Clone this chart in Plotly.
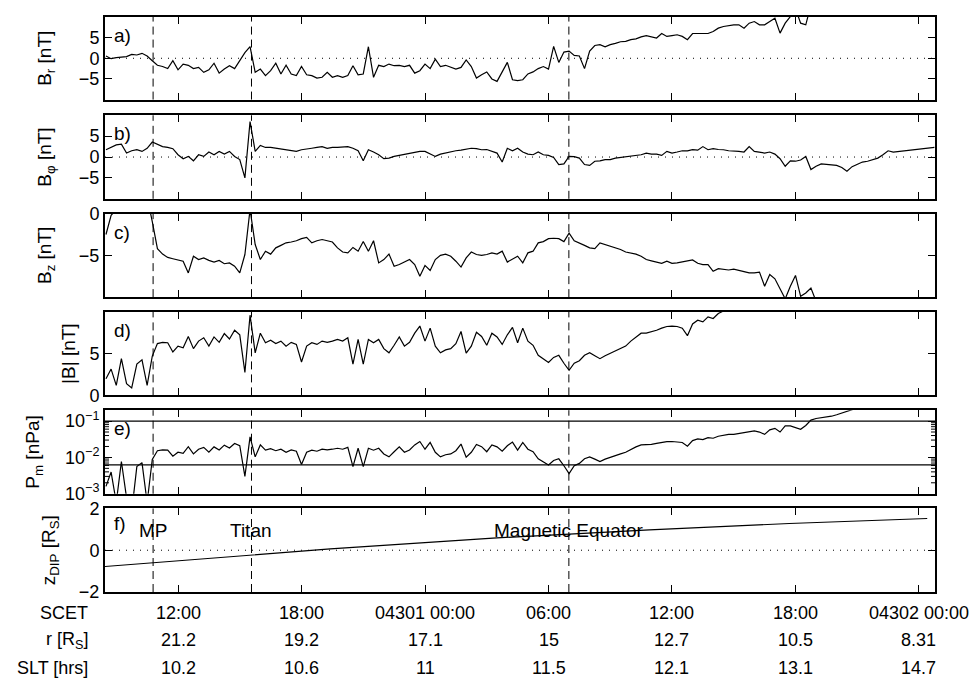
import numpy as np
import plotly.graph_objects as go

# ---------------- data (time in hours after 2004 day 300, 00:00 SCET) ----------------
T0 = 8.5      # first sample time [h]
DT = 0.25     # sample spacing [h]

BR = [0.55, -0.1, 0.15, 0.3, 0.4, 0.95, 0.8, 1.2, 0.55, -0.6,
      -1.7, -2.0, -2.5, -0.6, -2.8, -1.4, -1.7, -2.5, -2.2, -3.4,
      -2.8, -1.2, -3.6, -2.6, -1.8, -2.5, -0.6, 1.35, 2.8, -3.4,
      -2.6, -4.2, -3.0, -1.2, -3.8, -1.7, -3.8, -4.2, -2.0, -4.0,
      -4.2, -4.8, -4.6, -3.4, -4.6, -4.2, -4.6, -4.2, -1.8, -4.0,
      -3.8, 2.8, -4.6, -1.7, -2.0, -1.4, -1.8, -1.7, -2.0, -1.7,
      -3.6, -3.0, -1.4, -2.5, -0.2, -2.0, -1.7, -2.2, -2.6, -2.2,
      -0.4, -2.0, -4.8, -4.0, -3.3, -5.0, -5.6, -3.3, -1.0, -5.2,
      -5.4, -5.2, -3.8, -3.3, -2.5, -2.0, -2.6, 2.9, -1.0, 1.5,
      1.75, 0.7, 0.55, -2.5, 1.75, 3.1, 3.3, 2.8, 3.3, 3.6,
      4.0, 4.1, 4.5, 4.7, 5.2, 5.5, 5.2, 4.9, 6.0, 5.3,
      5.5, 5.7, 5.3, 4.5, 6.0, 6.0, 6.1, 6.0, 6.5, 7.3,
      7.7, 7.9, 8.1, 8.1, 7.3, 8.5, 8.9, 8.1, 8.1, 8.9,
      9.7, 6.1, 8.5, 10.1, 12.0, 8.5, 8.1, 13.0]

BPHI = [1.75, 2.3, 2.9, 3.1, 0.95, 1.5, 1.75, 1.35, 2.1, 3.6,
        3.1, 2.5, 2.3, 2.0, 0.55, -0.4, 0.15, -0.9, 0.55, 0.15,
        1.2, 0.55, 1.35, 0.7, 1.35, 0.15, -0.6, -5.0, 8.5, 1.35,
        2.8, 2.3, 2.3, 2.1, 2.0, 1.75, 1.5, 1.35, 1.75, 2.0,
        2.1, 2.3, 2.5, 2.1, 2.3, 2.3, 2.4, 2.5, 2.1, 1.5,
        -0.9, 1.75, 1.2, 0.55, -0.4, -0.25, 0.15, 0.4, 0.55, 0.9,
        1.2, 1.35, 1.35, 0.7, 0.15, 0.7, 0.95, 1.35, 1.5, 1.65,
        1.8, 2.1, 2.0, 1.75, 1.8, 1.35, 0.95, -1.2, 2.1, 1.5,
        2.1, 1.2, 0.7, 0.55, 1.2, 0.55, 0.4, -0.1, -1.8, -1.65,
        0.15, 0.1, -0.25, -1.8, -2.0, -1.0, -0.9, -0.6, -0.6, -0.25,
        -0.1, 0.1, 0.25, 0.4, 0.55, 0.95, 0.7, 0.7, 0.4, 1.35,
        0.95, 1.2, 1.5, 1.5, 1.75, 1.65, 2.5, 1.75, 2.0, 1.8,
        1.75, 1.5, 1.5, 1.35, 1.2, 2.5, 1.35, 1.2, 0.95, 1.2,
        0.7, -0.4, -2.2, -0.9, -1.0, -0.7, 0.15, -3.0, -2.2, -1.65,
        -1.8, -1.8, -2.0, -2.5, -3.4, -2.3, -1.65, -1.2, -1.0, -0.6,
        -0.25, 0.55, 1.5, 1.2, 1.35, 1.5, 1.65, 1.8, 2.0, 2.1,
        2.3, 2.3]

BZ = [-2.5, -0.2, 0.5, 2.0, 2.0, 2.0, 2.0, 2.0, 2.0, -0.95,
      -4.2, -4.85, -5.25, -5.4, -5.55, -5.7, -7.1, -5.1, -5.5, -5.3,
      -5.6, -5.8, -5.6, -6.0, -5.9, -6.3, -7.1, -4.9, 0.5, -3.7,
      -5.5, -4.5, -4.85, -4.1, -3.8, -3.5, -3.4, -3.25, -3.0, -2.85,
      -3.5, -3.25, -3.1, -3.25, -3.4, -4.1, -4.6, -4.7, -4.05, -4.5,
      -3.35, -4.5, -3.25, -5.9, -5.5, -4.85, -6.3, -6.1, -5.8, -5.5,
      -6.1, -7.5, -6.2, -6.8, -5.5, -5.0, -4.85, -5.1, -5.7, -6.4,
      -5.3, -4.6, -4.9, -5.0, -4.9, -4.7, -4.85, -4.5, -5.8, -5.4,
      -5.1, -5.9, -4.7, -4.5, -3.5, -3.35, -3.0, -2.95, -3.0, -3.35,
      -2.35, -3.25, -3.5, -3.8, -4.1, -4.2, -3.5, -3.7, -3.9, -4.1,
      -4.3, -4.6, -4.7, -4.85, -5.1, -5.5, -5.65, -5.8, -5.95, -5.7,
      -5.95, -5.9, -5.8, -5.65, -5.55, -5.95, -6.1, -6.1, -6.9, -6.6,
      -6.7, -6.75, -6.65, -6.8, -6.9, -7.1, -7.1, -7.0, -8.7, -7.3,
      -7.8, -9.1, -10.2, -8.7, -7.4, -9.9, -9.5, -8.9, -10.5, -11.0]

BMAG = [2.0, 3.15, 1.2, 4.4, 1.4, 0.9, 3.75, 4.25, 1.2, 4.7,
        6.2, 6.35, 6.3, 5.2, 5.9, 5.7, 7.05, 5.6, 6.5, 6.9,
        5.9, 7.0, 6.35, 7.4, 6.75, 7.8, 7.25, 2.75, 9.6, 5.1,
        7.45, 6.3, 6.6, 6.2, 6.5, 5.9, 6.35, 6.1, 4.0, 5.9,
        6.3, 6.1, 6.5, 6.35, 6.5, 6.7, 6.5, 6.9, 3.75, 6.7,
        3.75, 6.7, 6.3, 6.7, 5.6, 5.1, 6.0, 7.0, 5.9, 6.35,
        7.45, 8.3, 6.5, 8.05, 5.9, 5.1, 5.45, 5.6, 6.2, 7.65,
        5.05, 5.9, 7.55, 7.05, 6.0, 7.45, 7.0, 6.1, 7.25, 8.15,
        6.3, 8.05, 6.5, 6.0, 4.8, 4.35, 3.95, 4.55, 4.8, 3.85,
        3.0, 3.85, 4.15, 4.8, 5.1, 4.75, 4.4, 4.75, 5.05, 5.3,
        5.6, 5.9, 6.5, 7.0, 7.45, 7.45, 7.6, 7.8, 8.05, 8.25,
        8.3, 8.25, 8.05, 7.15, 8.55, 9.0, 8.8, 9.4, 9.2, 9.8,
        10.1, 10.4, 10.4, 10.7, 10.8, 11.2, 11.6, 11.2, 10.4, 12.0,
        12.6, 11.2, 13.6, 13.6, 13.0, 12.2, 13.8, 16.35, 17.2, 17.5,
        17.8, 18.5, 19.4, 20.6, 21.5, 23.0, 24.0]

ZDIP_T = [8.45, 13.9, 19.4, 27.3, 34.9, 41.7, 48.4]
ZDIP = [-0.78, -0.36, 0.06, 0.58, 0.97, 1.28, 1.52]

PM_REF = [0.1, 0.0062]          # reference pressure levels [nPa]

EVENT_T = [10.79, 15.57, 30.99]
EVENT_LABELS = ["MP", "Titan", "Magnetic Equator"]

TICK_T = [12, 18, 24, 30, 36, 42, 48]
SCET_LABELS = ["12:00", "18:00", "04301 00:00", "06:00", "12:00", "18:00", "04302 00:00"]
R_LABELS = ["21.2", "19.2", "17.1", "15", "12.7", "10.5", "8.31"]
SLT_LABELS = ["10.2", "10.6", "11", "11.5", "12.1", "13.1", "14.7"]
ROW_LABELS = ["SCET", "r [R<sub>S</sub>]", "SLT [hrs]"]

PANEL_LABELS = ["a)", "b)", "c)", "d)", "e)", "f)"]
Y_TITLES = ["B<sub>r</sub> [nT]", "B<sub>φ</sub> [nT]", "B<sub>z</sub> [nT]",
            "|B| [nT]", "P<sub>m</sub> [nPa]", "z<sub>DIP</sub> [R<sub>S</sub>]"]

# ---------------- derived ----------------
def times(vals):
    return T0 + DT * np.arange(len(vals))

MU0 = 4e-7 * np.pi
PM = (np.array(BMAG) * 1e-9) ** 2 / (2 * MU0) * 1e9   # magnetic pressure [nPa]

XR = [8.453, 48.778]
FONT = "Liberation Sans, Arial, sans-serif"

DOMAINS = [(0.8564, 1.0), (0.6838, 0.8291), (0.5128, 0.6581),
           (0.3419, 0.4872), (0.1709, 0.3162), (0.0, 0.1453)]
STANDOFF = [22, 22, 22, 9, 20, 18]

fig = go.Figure()
line = dict(color="black", width=1.2)
fig.add_trace(go.Scatter(x=times(BR), y=BR, mode="lines", line=line, xaxis="x", yaxis="y"))
fig.add_trace(go.Scatter(x=times(BPHI), y=BPHI, mode="lines", line=line, xaxis="x2", yaxis="y2"))
fig.add_trace(go.Scatter(x=times(BZ), y=BZ, mode="lines", line=line, xaxis="x3", yaxis="y3"))
fig.add_trace(go.Scatter(x=times(BMAG), y=BMAG, mode="lines", line=line, xaxis="x4", yaxis="y4"))
fig.add_trace(go.Scatter(x=times(BMAG), y=PM, mode="lines", line=line, xaxis="x5", yaxis="y5"))
for ref in PM_REF:
    fig.add_trace(go.Scatter(x=XR, y=[ref, ref], mode="lines",
                             line=dict(color="black", width=1.2), xaxis="x5", yaxis="y5"))
fig.add_trace(go.Scatter(x=ZDIP_T, y=ZDIP, mode="lines", line=line, xaxis="x6", yaxis="y6"))

# minor log ticks of panel e (short inward marks on both sides)
minor_log = [m * 10.0 ** e for e in (-3, -2, -1) for m in range(2, 10) if m * 10.0 ** e < 0.2]
tick_w = 4 / 830 * (XR[1] - XR[0])
mx, my = [], []
for v in minor_log:
    mx += [XR[0], XR[0] + tick_w, None, XR[1] - tick_w, XR[1], None]
    my += [v, v, None, v, v, None]
fig.add_trace(go.Scatter(x=mx, y=my, mode="lines", line=dict(color="black", width=1),
                         xaxis="x5", yaxis="y5", cliponaxis=False))

y_ranges = [[-10, 10], [-10, 10], [-10, 0], [0, 10], [-3, -0.7], [-2, 2]]
y_ticks = [[-5, 0, 5], [-5, 0, 5], [-5, 0], [0, 5], [0.001, 0.01, 0.1], [-2, 0, 2]]

layout = dict(width=975, height=681, margin=dict(l=105, r=40, t=7, b=89),
              paper_bgcolor="white", plot_bgcolor="white", showlegend=False,
              font=dict(family=FONT, size=18, color="black"))
for i in range(6):
    sfx = "" if i == 0 else str(i + 1)
    ax = dict(domain=[0, 1], range=XR, anchor="y" + sfx, tickvals=TICK_T,
              showticklabels=False, ticks="inside", ticklen=7, tickwidth=1,
              tickcolor="black", mirror="allticks", showline=True, linewidth=2,
              linecolor="black", showgrid=False, zeroline=False)
    if i > 0:
        ax["matches"] = "x"
    layout["xaxis" + sfx] = ax
    ay = dict(domain=list(DOMAINS[i]), range=y_ranges[i], anchor="x" + sfx,
              tickvals=y_ticks[i], ticks="inside", ticklen=7, tickwidth=1,
              tickcolor="black", mirror="allticks", showline=True, linewidth=2,
              linecolor="black", showgrid=False, zeroline=False,
              tickfont=dict(family=FONT, size=18),
              title=dict(text=Y_TITLES[i], font=dict(family=FONT, size=19),
                         standoff=STANDOFF[i]))
    if i == 4:
        ay.update(type="log",
                  ticktext=["10<sup>−3</sup>", "10<sup>−2</sup>", "10<sup>−1</sup>"])
    layout["yaxis" + sfx] = ay
fig.update_layout(**layout)

shapes = []
annotations = []
for i in range(6):
    sfx = "" if i == 0 else str(i + 1)
    for t in EVENT_T:
        shapes.append(dict(type="line", xref="x" + sfx, yref="y" + sfx + " domain",
                           x0=t, x1=t, y0=0, y1=1,
                           line=dict(color="black", width=1, dash="8px,5px")))
    yoff = 15 if i == 5 else 19
    annotations.append(dict(text=PANEL_LABELS[i], xref="x" + sfx + " domain",
                            yref="y" + sfx + " domain", x=0.008, y=1 - yoff / 85,
                            xanchor="left", yanchor="middle", showarrow=False,
                            font=dict(family=FONT, size=19)))
for ysfx in ["", "2", "6"]:
    shapes.append(dict(type="line", xref="x" + ysfx + " domain", yref="y" + ysfx,
                       x0=0, x1=1, y0=0, y1=0,
                       line=dict(color="black", width=1, dash="1px,6px")))

for t, lab in zip(EVENT_T, EVENT_LABELS):
    annotations.append(dict(text=lab, xref="x6", yref="y6", x=t, y=0.93,
                            xanchor="center", yanchor="middle", showarrow=False,
                            font=dict(family=FONT, size=19)))

row_shift = [-21, -48, -76]
for r, labels in enumerate([SCET_LABELS, R_LABELS, SLT_LABELS]):
    for t, lab in zip(TICK_T, labels):
        annotations.append(dict(text=lab, xref="x6", yref="paper", x=t, y=0,
                                yshift=row_shift[r], xanchor="center", yanchor="middle",
                                showarrow=False, font=dict(family=FONT, size=18)))
    annotations.append(dict(text=ROW_LABELS[r], xref="paper", yref="paper",
                            x=-0.018, y=0, yshift=row_shift[r], xanchor="right",
                            yanchor="middle", showarrow=False,
                            font=dict(family=FONT, size=18)))

fig.update_layout(shapes=shapes, annotations=annotations)
fig.write_html("out.html")
